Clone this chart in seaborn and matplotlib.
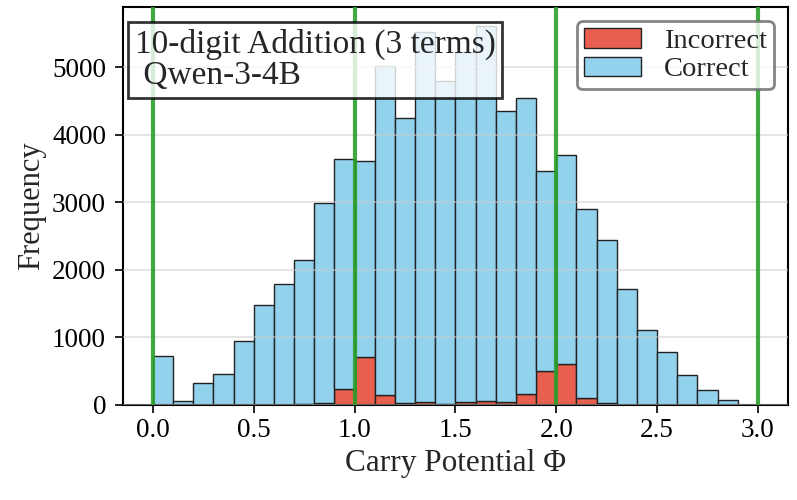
import matplotlib.pyplot as plt
import seaborn as sns
import numpy as np
import pandas as pd

# bin starts (width 0.1)
bin_starts = [round(0.1 * i, 1) for i in range(30)]
correct = [730, 60, 325, 460, 945, 1485, 1790, 2135, 2960, 3398,
           2910, 4867, 4210, 5481, 4770, 5181, 5550, 4301, 4385, 2965,
           3100, 2790, 2405, 1715, 1110, 780, 445, 215, 70, 5]
incorrect = [0, 0, 0, 0, 0, 0, 5, 10, 30, 242,
             705, 143, 30, 44, 20, 44, 55, 44, 165, 500,
             605, 105, 35, 5, 0, 0, 0, 0, 0, 0]
boundaries = [0, 1, 2, 3]

centers = [b + 0.05 for b in bin_starts]
df = pd.DataFrame({
    "phi": centers + centers,
    "count": correct + incorrect,
    "outcome": ["Correct"] * len(centers) + ["Incorrect"] * len(centers),
})

sns.set_style("ticks")
plt.rcParams["font.family"] = ["Liberation Serif", "DejaVu Serif"]

fig, ax = plt.subplots(figsize=(7.97, 5.0), dpi=100)
sns.histplot(data=df, x="phi", weights="count", hue="outcome",
             hue_order=["Correct", "Incorrect"],
             palette={"Correct": "#93D2EC", "Incorrect": "#E95F4F"},
             multiple="stack", binwidth=0.1, binrange=(0, 3),
             alpha=1, edgecolor="#222222", linewidth=1, ax=ax)

for b in boundaries:
    ax.axvline(b, color="#2ca02c", linewidth=3, alpha=0.9, zorder=3)

ax.yaxis.grid(True, color="#cccccc", alpha=0.6, linewidth=1.2, zorder=2.5)
ax.set_axisbelow(False)
ax.xaxis.grid(False)

ax.set_xlim(-0.15, 3.15)
ax.set_ylim(0, 5890)
ax.set_xticks([0, 0.5, 1.0, 1.5, 2.0, 2.5, 3.0])
ax.set_yticks([0, 1000, 2000, 3000, 4000, 5000])
ax.tick_params(labelsize=19.5, direction="out", length=6, width=1.2, colors="black")
ax.tick_params(axis="y", pad=6)
ax.set_xlabel("Carry Potential Φ", fontsize=22.5)
ax.set_ylabel("Frequency", fontsize=22)
for s in ax.spines.values():
    s.set_color("black")
    s.set_linewidth(1.5)

leg = ax.get_legend()
handles = leg.legend_handles
labels = [t.get_text() for t in leg.get_texts()]
leg.remove()
ax.legend(handles[::-1], labels[::-1], loc="upper right", fontsize=20.5,
          frameon=True, framealpha=0.8, edgecolor="#666666",
          handlelength=2.0, handleheight=0.66, borderpad=0.25,
          labelspacing=0.1, handletextpad=0.8, fancybox=True,
          borderaxespad=0.5)
ax.get_legend().get_frame().set_linewidth(2)

ax.text(0.018, 0.946, "10-digit Addition (3 terms)\n Qwen-3-4B",
        transform=ax.transAxes, fontsize=24, va="top", ha="left",
        linespacing=1.05, zorder=5,
        bbox=dict(boxstyle="square,pad=0.2", facecolor="white",
                  edgecolor="black", linewidth=2, alpha=0.8))

fig.subplots_adjust(left=0.154, right=0.989, top=0.986, bottom=0.19)
plt.savefig("out.png", dpi=100)
